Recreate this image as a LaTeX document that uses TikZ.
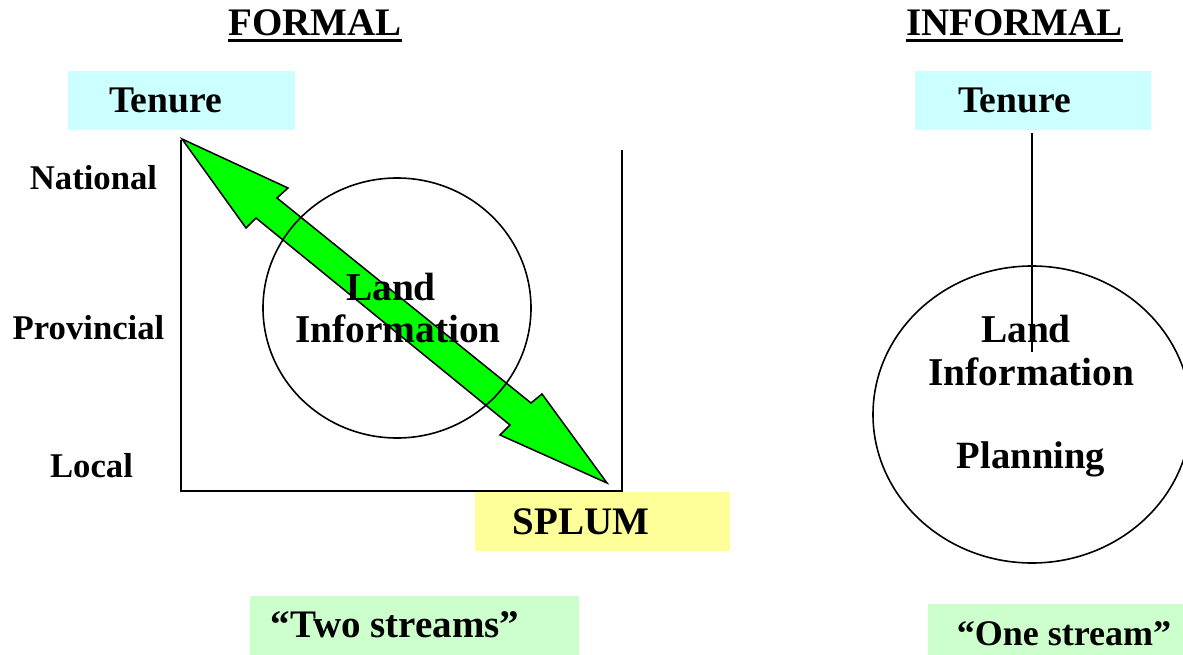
\documentclass[tikz,border=0pt]{standalone}
\usepackage{fontspec}
\usetikzlibrary{shapes.geometric}
\setmainfont{Liberation Serif}
\definecolor{tenurefill}{RGB}{204,255,255}
\definecolor{splumfill}{RGB}{255,255,153}
\definecolor{streamfill}{RGB}{204,255,204}
\definecolor{arrowgreen}{RGB}{0,255,0}
\begin{document}
\begin{tikzpicture}[x=1pt,y=-1pt,
  txt/.style={inner sep=0pt, anchor=base, font=\fontsize{#1}{#1}\selectfont\bfseries},
  txt/.default=38,
  bandbox/.style={inner sep=0pt, draw=none, fill=#1},
  title/.style={txt=39},
  ring/.style={draw, line width=1.6pt, ellipse, inner sep=0pt}]
\useasboundingbox (0,0) rectangle (1183,655);
\clip (0,0) rectangle (1183,655);

% ---------- coloured label boxes ----------
\node[bandbox=tenurefill, minimum width=227pt, minimum height=59pt] (tenureLbox) at (181.5,100.5) {};
\node[bandbox=tenurefill, minimum width=236pt, minimum height=59pt] (tenureRbox) at (1033,100.5) {};
\node[bandbox=splumfill, minimum width=255pt, minimum height=59pt] (splumbox) at (602.5,521.5) {};
\node[bandbox=streamfill, minimum width=329pt, minimum height=62pt] (twobox) at (414.5,627) {};
\node[bandbox=streamfill, minimum width=260pt, minimum height=54pt] (onebox) at (1058,631) {};

% ---------- headings ----------
\node[title] (formal) at (315,36) {FORMAL};
\node[title] (informal) at (1014.5,36) {INFORMAL};
\draw[line width=3pt] ([yshift=-5pt]formal.base west) -- ([yshift=-5pt]formal.base east);
\draw[line width=3pt] ([yshift=-5pt]informal.base west) -- ([yshift=-5pt]informal.base east);

% ---------- formal side ----------
\node[txt=37.6] (tenureL) at (165.5,113) {Tenure};
\node[txt=34.7] (national) at (93.5,190) {National};
\node[txt=34.7] (provincial) at (88.5,339) {Provincial};
\node[txt=34.7] (local) at (91.5,477) {Local};

% open frame of administrative levels
\coordinate (frameTL) at (181,140);
\coordinate (frameBL) at (181,491);
\coordinate (frameBR) at (622,491);
\coordinate (frameTR) at (622,150);
\draw[line width=2.6pt] (frameTL) -- (frameBL) -- (frameBR) -- (frameTR);

% double-headed green arrow
\draw[line width=1.5pt, fill=arrowgreen, line join=miter]
  (182,139) -- (288,188) -- (277,198) -- (531,403) -- (542,394) -- (607,483)
  -- (500,435) -- (510,425) -- (256,218) -- (246,228) -- cycle;

% land information circle
\node[ring, minimum width=268pt, minimum height=260pt] (circL) at (397,308) {};
\node[txt=39.4] (landL) at (391,300) {Land};
\node[txt=39.4] (infoL) at (398,342) {Information};

\node[txt=39] (splum) at (581,534) {SPLUM};
\node[txt=39] (twostreams) at (395,637) {“Two streams”};

% ---------- informal side ----------
\node[txt=37.6] (tenureR) at (1014.5,113) {Tenure};
\node[ring, minimum width=318pt, minimum height=297pt] (circR) at (1032,414.5) {};
\node[txt=39.4] (landR) at (1026,342) {Land};
\node[txt=39.4] (infoR) at (1031.5,385) {Information};
\node[txt=38.6] (planR) at (1031,468) {Planning};
\coordinate (tenureLink) at (1032,352);
\draw[line width=2pt] ([yshift=-3pt]tenureRbox.south -| tenureLink) -- (tenureLink);

\node[txt=36] (onestream) at (1064,645) {“One stream”};
\end{tikzpicture}
\end{document}
